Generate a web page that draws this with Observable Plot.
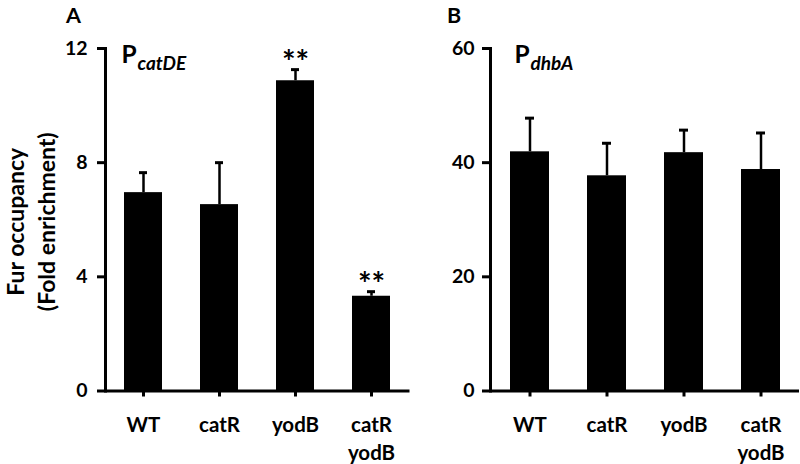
<!DOCTYPE html>
<html>
<head>
<meta charset="utf-8">
<script src="https://cdn.jsdelivr.net/npm/d3@7"></script>
<script src="https://cdn.jsdelivr.net/npm/@observablehq/plot@0.6"></script>
<style>
  html, body { margin: 0; padding: 0; background: #fff; }
  #wrap { display: flex; width: 800px; height: 464px; overflow: hidden; }
  #wrap svg { display: block; font-family: Lato, "Open Sans", sans-serif; font-weight: bold; color: #000; }
</style>
</head>
<body>
<div id="wrap"></div>
<script>
// Categories and tick labels
const categories = ["WT", "catR", "yodB", "catR yodB"];
const categoryLabels = ["WT", "catR", "yodB", "catR\nyodB"];

// Panel A: P_catDE fold enrichment (mean and upper error)
const catDEMean = [6.95, 6.53, 10.87, 3.32];
const catDEError = [0.70, 1.47, 0.39, 0.16];
const catDEStars = ["", "", "**", "**"];
const catDETicks = [0, 4, 8, 12];

// Panel B: P_dhbA fold enrichment
const dhbAMean = [41.9, 37.7, 41.75, 38.8];
const dhbAError = [5.9, 5.7, 3.95, 6.4];
const dhbAStars = ["", "", "", ""];
const dhbATicks = [0, 20, 40, 60];

const yLabel = "Fur occupancy\n(Fold enrichment)";

function panel(o) {
  const rows = categories.map((c, i) => ({
    cat: c, mean: o.means[i], top: o.means[i] + o.errs[i], star: o.stars[i]
  }));
  const labelOf = new Map(categories.map((c, i) => [c, categoryLabels[i]]));
  const marks = [
    Plot.barY(rows, {x: "cat", y: "mean", fill: "#000"}),
    Plot.ruleX(rows, {x: "cat", y1: "mean", y2: "top", stroke: "#000", strokeWidth: 2.5}),
    Plot.tickY(rows, {x: "cat", y: "top", stroke: "#000", strokeWidth: 3, insetLeft: 15, insetRight: 15}),
    Plot.text(rows.filter(d => d.star), {x: "cat", y: "top", text: "star", fontSize: 32, dy: 4, lineAnchor: "bottom", fill: "#000"}),
    Plot.ruleY([0], {stroke: "#000", strokeWidth: 3}),
    Plot.frame({anchor: "left", stroke: "#000", strokeWidth: 3}),
    Plot.axisY({ticks: o.ticks, tickSize: 8, tickPadding: o.tickPadding, fontSize: 19.5, strokeWidth: 3, label: null, tickFormat: d => String(d)}),
    Plot.axisX({tickSize: 6, tickPadding: 15, fontSize: 20.5, strokeWidth: 3, lineHeight: 1.36, label: null, tickFormat: d => labelOf.get(d)}),
    Plot.text([o.letter], {frameAnchor: "top-left", dx: o.letterDx, dy: -41, textAnchor: "middle", lineAnchor: "top", fontSize: 21.5, fill: "#000"}),
    Plot.text([o.p], {frameAnchor: "top-left", dx: o.pDx, dy: 14, textAnchor: "start", lineAnchor: "bottom", fontSize: 24.5, fill: "#000"}),
    Plot.text([o.sub], {frameAnchor: "top-left", dx: o.pDx + 16, dy: 21, textAnchor: "start", lineAnchor: "bottom", fontSize: 19, fontStyle: "italic", fill: "#000"})
  ];
  if (o.yLabel) {
    marks.push(Plot.text([o.yLabel], {frameAnchor: "left", dx: -76, dy: 2, rotate: -90, textAnchor: "middle", lineAnchor: "middle", lineHeight: 1.35, fontSize: 23, fill: "#000"}));
  }
  return Plot.plot({
    width: o.width,
    height: 464,
    marginLeft: o.marginLeft,
    marginRight: o.marginRight,
    marginTop: 48,
    marginBottom: 73.5,
    x: {domain: categories, paddingInner: 0.5, paddingOuter: o.paddingOuter},
    y: {domain: o.domain},
    style: {fontFamily: "Lato, 'Open Sans', sans-serif", fontWeight: "bold", color: "#000", background: "#fff", overflow: "visible"},
    marks
  });
}

const wrap = document.getElementById("wrap");
wrap.appendChild(panel({
  width: 410, marginLeft: 105, marginRight: 0.5, paddingOuter: 0.24,
  domain: [0, 12], ticks: catDETicks, tickPadding: 10,
  means: catDEMean, errs: catDEError, stars: catDEStars,
  letter: "A", letterDx: -32, p: "P", sub: "catDE", pDx: 16, yLabel
}));
wrap.appendChild(panel({
  width: 390, marginLeft: 80, marginRight: 1, paddingOuter: 0.256,
  domain: [0, 60], ticks: dhbATicks, tickPadding: 8,
  means: dhbAMean, errs: dhbAError, stars: dhbAStars,
  letter: "B", letterDx: -36.5, p: "P", sub: "dhbA", pDx: 24, yLabel: null
}));
</script>
</body>
</html>
